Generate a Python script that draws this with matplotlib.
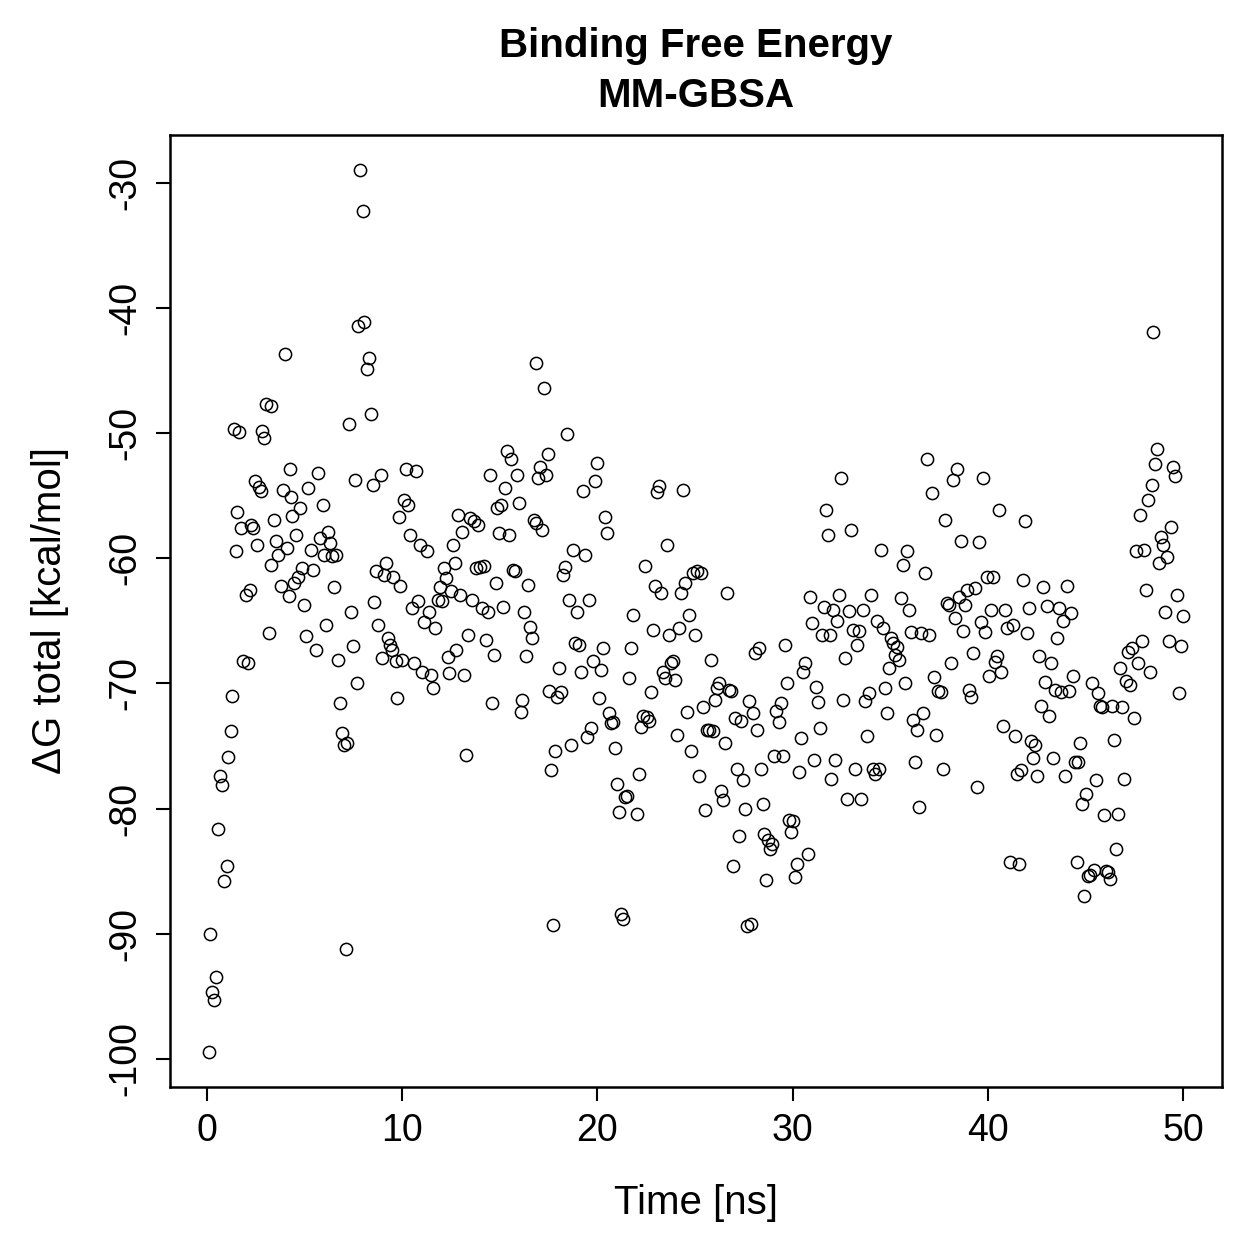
import matplotlib
matplotlib.use("Agg")
import matplotlib.pyplot as plt

plt.rcParams['font.family'] = ['Liberation Sans', 'DejaVu Sans']

time_ns = [
    0.10, 0.15, 0.26, 0.36, 0.46, 0.56, 0.67, 0.77, 0.87, 1.02, 1.08, 1.23, 1.28, 1.38, 1.49, 1.54, 1.64, 1.74, 1.84,
    2.00, 2.10, 2.20, 2.25, 2.36, 2.46, 2.56, 2.66, 2.77, 2.82, 2.92, 3.02, 3.28, 3.18, 3.28, 3.43, 3.53, 3.64, 3.79,
    3.89, 4.00, 4.10, 4.20, 4.25, 4.30, 4.35, 4.46, 4.56, 4.66, 4.76, 4.87, 4.97,
    5.07, 5.17, 5.33, 5.43, 5.58, 5.69, 5.79, 5.94, 5.99, 6.10, 6.20, 6.30, 6.40, 6.51, 6.61, 6.71, 6.81, 6.92, 7.02,
    7.17, 7.12, 7.27, 7.38, 7.48, 7.58, 7.68, 7.74, 7.84, 7.99, 8.04, 8.20, 8.30, 8.40, 8.50, 8.56, 8.66, 8.76, 8.91,
    8.97, 9.07, 9.17, 9.27, 9.38, 9.48, 9.53, 9.68, 9.73, 9.84, 9.89,
    9.99, 10.09, 10.19, 10.30, 10.40, 10.50, 10.60, 10.71, 10.81, 10.91, 11.01, 11.11, 11.27, 11.37, 11.48, 11.58,
    11.68, 11.83, 11.94, 12.04, 12.14, 12.24, 12.35, 12.40, 12.50, 12.60, 12.70, 12.76, 12.86, 12.96, 13.06, 13.17,
    13.27, 13.37, 13.47, 13.58, 13.68, 13.78, 13.88, 13.99, 14.09, 14.19, 14.29, 14.40, 14.50, 14.60, 14.70, 14.81,
    14.86, 14.96,
    15.06, 15.16, 15.27, 15.37, 15.47, 15.57, 15.68, 15.78, 15.88, 15.98, 16.09, 16.14, 16.24, 16.34, 16.44, 16.55,
    16.65, 16.75, 16.85, 16.85, 16.96, 17.06, 17.16, 17.26, 17.37, 17.47, 17.52, 17.62, 17.73, 17.83, 17.93, 18.03,
    18.14, 18.24, 18.34, 18.44, 18.55, 18.65, 18.75, 18.85, 18.96, 19.06, 19.16, 19.26, 19.36, 19.47, 19.57, 19.67,
    19.77, 19.88, 19.98,
    20.08, 20.18, 20.29, 20.39, 20.49, 20.59, 20.70, 20.80, 20.90, 21.00, 21.11, 21.21, 21.31, 21.41, 21.52, 21.62,
    21.72, 21.82, 22.03, 22.13, 22.23, 22.34, 22.44, 22.54, 22.64, 22.75, 22.85, 22.95, 23.05, 23.16, 23.26, 23.36,
    23.46, 23.57, 23.67, 23.77, 23.87, 23.98, 24.08, 24.18, 24.28, 24.39, 24.49, 24.59, 24.69, 24.80, 24.90,
    25.00, 25.10, 25.20, 25.31, 25.41, 25.51, 25.61, 25.72, 25.82, 25.92, 26.02, 26.13, 26.23, 26.33, 26.43, 26.54,
    26.64, 26.74, 26.84, 26.95, 27.05, 27.15, 27.25, 27.36, 27.46, 27.56, 27.66, 27.87, 27.77, 27.97, 28.07, 28.18,
    28.28, 28.38, 28.48, 28.53, 28.64, 28.74, 28.84, 28.94, 29.05, 29.15, 29.30, 29.41, 29.51, 29.61, 29.71, 29.82,
    29.92,
    30.02, 30.12, 30.23, 30.33, 30.43, 30.53, 30.64, 30.79, 30.89, 30.99, 31.10, 31.20, 31.30, 31.40, 31.51, 31.61,
    31.71, 31.81, 31.92, 31.97, 32.07, 32.17, 32.27, 32.38, 32.48, 32.58, 32.68, 32.79, 32.89, 32.99, 33.09, 33.20,
    33.30, 33.40, 33.50, 33.61, 33.71, 33.81, 33.91, 34.02, 34.12, 34.22, 34.32, 34.43, 34.53, 34.63, 34.73, 34.84,
    34.94,
    35.04, 35.14, 35.25, 35.35, 35.45, 35.55, 35.66, 35.76, 35.86, 35.96, 36.07, 36.17, 36.27, 36.37, 36.48, 36.58,
    36.68, 36.78, 36.89, 36.99, 37.14, 37.24, 37.35, 37.45, 37.60, 37.70, 37.81, 37.91, 38.01, 38.11, 38.22, 38.32,
    38.42, 38.52, 38.63, 38.73, 38.83, 38.93, 39.04, 39.14, 39.24, 39.34, 39.45, 39.55, 39.65, 39.75, 39.86, 39.96,
    40.06, 40.16, 40.27, 40.37, 40.47, 40.57, 40.68, 40.78, 40.88, 40.98, 41.14, 41.29, 41.39, 41.50, 41.60, 41.70,
    41.80, 41.91, 42.01, 42.11, 42.21, 42.32, 42.42, 42.52, 42.62, 42.73, 42.83, 42.93, 43.03, 43.13, 43.24, 43.34,
    43.44, 43.55, 43.65, 43.75, 43.85, 43.96, 44.06, 44.16, 44.26, 44.36, 44.47, 44.57, 44.62, 44.72, 44.83, 44.93,
    45.03,
    45.13, 45.24, 45.34, 45.44, 45.54, 45.65, 45.75, 45.85, 45.95, 46.06, 46.16, 46.26, 46.36, 46.47, 46.57, 46.67,
    46.77, 46.88, 46.98, 47.08, 47.18, 47.29, 47.39, 47.49, 47.59, 47.70, 47.80, 47.90, 48.00, 48.10, 48.21, 48.31,
    48.41, 48.46, 48.57, 48.67, 48.77, 48.87, 48.98, 49.08, 49.18, 49.28, 49.39, 49.49, 49.59, 49.69, 49.80, 49.90,
    50.00,
]

delta_g = [
    -99.5, -90.0, -94.7, -95.3, -93.5, -81.6, -77.4, -78.1, -85.8, -84.6, -75.9, -73.8, -71.0, -49.7, -59.4, -56.3, -49.9, -57.6, -68.2,
    -62.9, -68.4, -62.5, -57.3, -57.6, -53.8, -58.9, -54.3, -54.6, -49.8, -50.4, -47.7, -47.8, -66.0, -60.5, -56.9, -58.6, -59.7, -62.2,
    -54.5, -43.7, -59.2, -63.0, -52.9, -55.1, -56.6, -62.0, -58.1, -61.5, -56.0, -60.8, -63.7,
    -66.2, -54.4, -59.3, -60.9, -67.3, -53.2, -58.4, -55.7, -59.7, -65.3, -57.9, -58.8, -59.8, -62.3, -59.7, -68.1, -71.6, -74.0, -74.9,
    -74.8, -91.2, -49.3, -64.3, -67.0, -53.7, -70.0, -41.4, -29.0, -32.2, -41.1, -44.9, -44.0, -48.5, -54.1, -63.5, -61.0, -65.3, -53.3,
    -68.0, -61.3, -60.4, -66.4, -66.9, -67.3, -61.5, -68.2, -71.2, -56.7, -62.2,
    -68.1, -55.3, -52.9, -55.7, -58.1, -64.0, -68.4, -53.0, -63.4, -58.9, -69.1, -65.1, -59.4, -64.3, -69.3, -70.4,
    -65.6, -63.3, -62.3, -63.4, -60.8, -61.6, -67.9, -69.2, -62.6, -58.9, -60.4, -67.3, -56.5, -62.9, -57.9, -69.3,
    -75.7, -66.1, -56.8, -63.3, -57.0, -60.8, -57.3, -60.7, -64.0, -60.6, -66.5, -64.3, -53.3, -71.6, -67.7, -62.0,
    -56.0, -58.0,
    -55.7, -63.9, -54.4, -51.4, -58.1, -52.1, -60.9, -61.0, -53.3, -55.6, -72.3, -71.3, -64.3, -67.8, -62.1, -65.5,
    -66.4, -56.9, -57.2, -44.4, -53.6, -52.7, -57.7, -46.4, -53.3, -51.7, -70.6, -76.9, -89.3, -75.4, -71.1, -68.8,
    -70.7, -61.3, -60.7, -50.1, -63.3, -74.9, -59.3, -66.8, -64.3, -66.9, -69.1, -54.6, -59.7, -74.3, -63.3, -73.6,
    -68.2, -53.8, -52.4,
    -71.2, -68.9, -67.2, -56.7, -58.0, -72.4, -73.2, -73.1, -75.2, -78.0, -80.3, -88.4, -88.8, -79.1, -79.0, -69.6,
    -67.2, -64.5, -80.4, -77.2, -73.5, -72.6, -60.6, -72.7, -73.0, -70.7, -65.7, -62.2, -54.7, -54.2, -62.8, -69.1,
    -69.6, -58.9, -66.1, -68.4, -68.2, -69.7, -74.1, -65.6, -62.8, -54.5, -62.0, -72.3, -64.5, -75.4, -61.2,
    -66.1, -61.0, -77.4, -61.2, -71.9, -80.1, -73.7, -73.7, -68.1, -73.8, -71.3, -70.4, -70.0, -78.6, -79.3, -74.8,
    -62.8, -70.5, -70.6, -84.6, -72.8, -76.8, -82.2, -73.0, -77.7, -80.0, -89.4, -89.2, -71.4, -72.4, -67.6, -73.7,
    -67.2, -76.8, -79.6, -82.0, -85.7, -82.5, -83.2, -82.8, -75.8, -72.2, -73.1, -71.6, -75.8, -66.9, -70.0, -80.9,
    -81.9,
    -81.0, -85.5, -84.4, -77.1, -74.4, -69.1, -68.4, -83.6, -63.1, -65.2, -76.1, -70.3, -71.5, -73.6, -66.1, -63.9,
    -56.1, -58.1, -66.1, -77.6, -64.1, -76.1, -65.0, -62.9, -53.6, -71.3, -68.0, -79.2, -64.2, -57.7, -65.7, -76.8,
    -66.9, -65.8, -79.2, -64.1, -71.4, -74.2, -70.8, -62.9, -76.8, -77.2, -65.0, -76.8, -59.3, -65.6, -70.4, -72.4,
    -68.8,
    -66.4, -66.8, -67.7, -67.1, -68.1, -63.2, -60.5, -70.0, -59.4, -64.1, -65.9, -72.9, -76.3, -73.7, -79.9, -66.0,
    -72.4, -61.2, -52.1, -66.1, -54.8, -69.5, -74.1, -70.6, -70.7, -76.8, -56.9, -63.6, -63.7, -68.4, -53.7, -64.8,
    -52.9, -63.1, -58.6, -65.8, -63.7, -62.5, -70.5, -71.1, -67.6, -62.4, -78.3, -58.7, -65.1, -53.6, -65.9, -61.5,
    -69.4, -64.1, -61.5, -68.3, -67.8, -56.1, -69.1, -73.4, -64.1, -65.6, -84.3, -65.3, -74.2, -77.2, -84.4, -76.9,
    -61.7, -57.0, -66.0, -64.0, -74.6, -76.0, -74.9, -77.4, -67.8, -71.8, -62.3, -69.9, -63.8, -72.6, -68.4, -76.0,
    -70.5, -66.4, -64.0, -70.7, -65.0, -77.4, -62.2, -70.6, -64.4, -69.4, -76.3, -84.3, -76.3, -74.8, -79.6, -87.0,
    -78.8,
    -85.4, -85.3, -70.0, -84.9, -77.7, -70.8, -71.8, -71.9, -80.5, -85.0, -85.1, -85.6, -71.8, -74.5, -83.2, -80.4,
    -68.8, -71.9, -77.6, -69.8, -67.5, -70.1, -67.2, -72.8, -59.4, -68.4, -56.5, -66.6, -59.3, -62.5, -55.3, -69.1,
    -54.1, -41.9, -52.5, -51.3, -60.4, -58.3, -58.9, -64.3, -59.9, -66.6, -57.5, -52.7, -53.4, -62.9, -70.8, -67.0,
    -64.6,
]

x_ticks = [0, 10, 20, 30, 40, 50]
y_ticks = [-100, -90, -80, -70, -60, -50, -40, -30]

fig = plt.figure(figsize=(12.59, 12.59), dpi=100)
ax = fig.add_axes([0.135, 0.1366, 0.8356, 0.7562])

ax.plot(time_ns, delta_g, linestyle='none', marker='o', markersize=8.8,
        markerfacecolor='none', markeredgecolor='black', markeredgewidth=1.1)

ax.set_xlim(-1.9, 52.0)
ax.set_ylim(-102.26, -26.16)

ax.set_xticks(x_ticks)
ax.set_xticklabels([str(v) for v in x_ticks])
ax.set_yticks(y_ticks)
ax.set_yticklabels([str(v) for v in y_ticks], rotation=90, va='center')

ax.tick_params(axis='both', which='major', direction='out', length=10, width=1.5,
               labelsize=27, pad=9)
for sp in ax.spines.values():
    sp.set_linewidth(1.8)

ax.set_xlabel('Time [ns]', fontsize=29)
ax.xaxis.set_label_coords(0.5, -0.122)
ax.xaxis.label.set_va('center')
ax.set_ylabel('\u0394G total [kcal/mol]', fontsize=29)
ax.yaxis.set_label_coords(-0.114, 0.5)
ax.yaxis.label.set_va('center')

fig.text(0.5528, 1 - 46 / 1259, 'Binding Free Energy', ha='center', va='center',
         fontsize=29, fontweight='bold')
fig.text(0.5528, 1 - 96 / 1259, 'MM-GBSA', ha='center', va='center',
         fontsize=29, fontweight='bold')

fig.savefig('out.png', dpi=100)
